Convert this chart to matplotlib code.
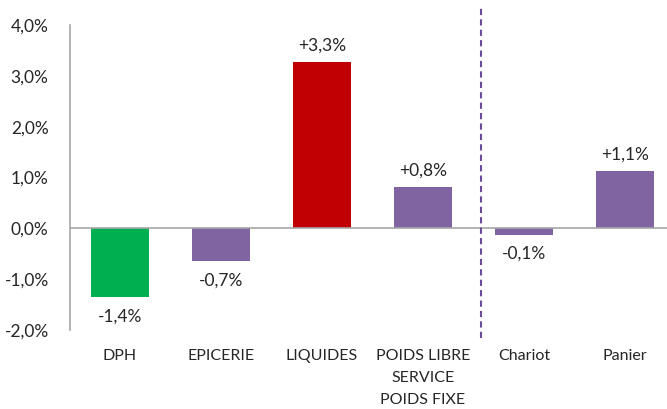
import matplotlib
matplotlib.use("Agg")
import matplotlib.pyplot as plt

categories = ["DPH", "EPICERIE", "LIQUIDES", "POIDS LIBRE\nSERVICE\nPOIDS FIXE", "Chariot", "Panier"]
values = [-1.36, -0.65, 3.28, 0.81, -0.13, 1.13]
value_labels = ["-1,4%", "-0,7%", "+3,3%", "+0,8%", "-0,1%", "+1,1%"]
colors = ["#00B050", "#8064A2", "#C00000", "#8064A2", "#8064A2", "#8064A2"]
yticks = [-2, -1, 0, 1, 2, 3, 4]
ytick_labels = ["-2,0%", "-1,0%", "0,0%", "1,0%", "2,0%", "3,0%", "4,0%"]

plt.rcParams['font.family'] = ['Lato', 'DejaVu Sans']

W, H = 667, 409
fig = plt.figure(figsize=(W/100, H/100), dpi=100)
left = 69.5 / W
right = 675.5 / W
bottom = (H - 330) / H
top = (H - 25) / H
ax = fig.add_axes([left, bottom, right - left, top - bottom])

x = list(range(len(categories)))
ax.bar(x, values, width=0.57, color=colors, zorder=2)
ax.set_xlim(-0.5, 5.5)
ax.set_ylim(-2, 4)
ax.axhline(0, color="#A6A6A6", lw=1.2, zorder=3)

for xi, v, lab in zip(x, values, value_labels):
    if v >= 0:
        ax.annotate(lab, (xi, v), xytext=(0, 6), textcoords="offset points",
                    ha="center", va="bottom", fontsize=12.5, color="#262626")
    else:
        ax.annotate(lab, (xi, v), xytext=(0, -8), textcoords="offset points",
                    ha="center", va="top", fontsize=12.5, color="#262626")

ax.set_yticks(yticks)
ax.set_yticklabels(ytick_labels, fontsize=12.5, color="#262626")
ax.tick_params(axis="y", length=0, pad=15)
ax.set_xticks(x)
ax.set_xticklabels(categories, fontsize=11.5, color="#262626", linespacing=1.72, va="top")
ax.tick_params(axis="x", length=0, pad=14)

for s in ["top", "right", "bottom"]:
    ax.spines[s].set_visible(False)
ax.spines["left"].set_color("#A6A6A6")
ax.spines["left"].set_linewidth(1.2)

ax.vlines(3.57, -2.16, 4.39, colors="#6B4C9A", linestyles=(0, (3, 2)), lw=1.5, clip_on=False, zorder=4)

fig.savefig("out.png", dpi=100, facecolor="white")
